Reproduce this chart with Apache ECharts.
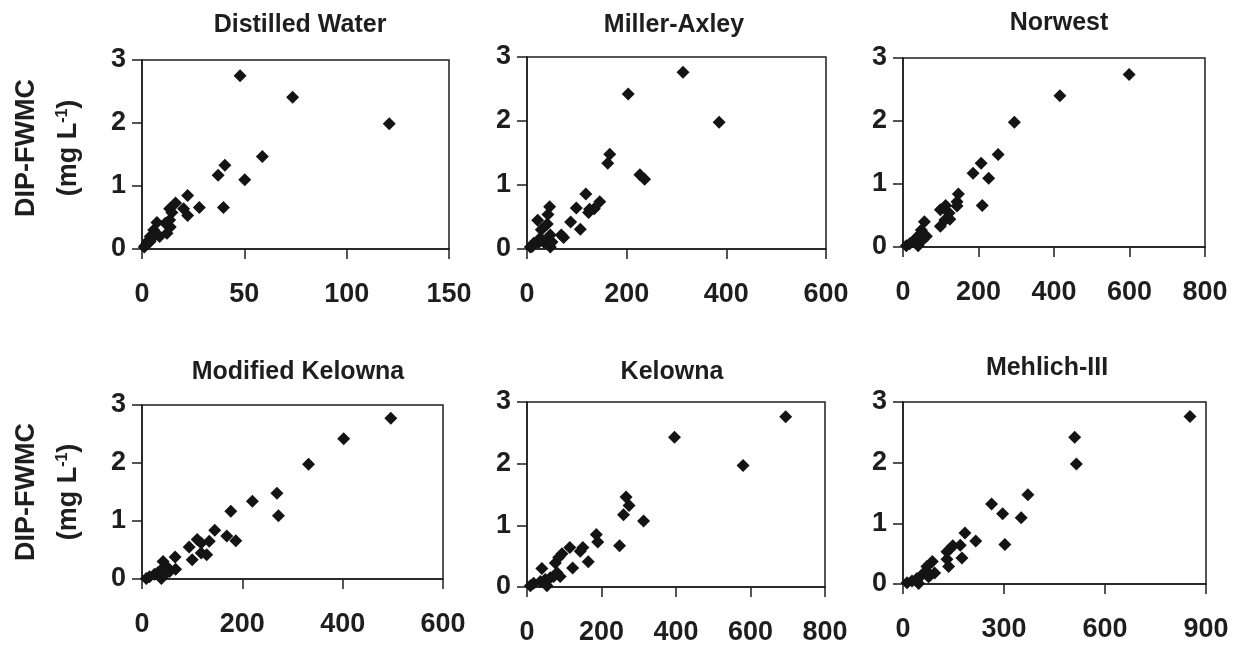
<!DOCTYPE html>
<html>
<head>
<meta charset="utf-8">
<script src="https://cdn.jsdelivr.net/npm/echarts@6/dist/echarts.min.js"></script>
<style>
html,body{margin:0;padding:0;background:#fff;}
#chart{width:1240px;height:650px;}
</style>
</head>
<body>
<div id="chart"></div>
<script>
// ---- data (x = extractable P, y = DIP-FWMC mg/L) ----
const panelTitles = ['Distilled Water', 'Miller-Axley', 'Norwest', 'Modified Kelowna', 'Kelowna', 'Mehlich-III'];

const distilledWater = [
  [47.9,2.75],[73.6,2.41],[120.8,1.99],[58.8,1.47],[40.5,1.33],[37.2,1.17],[50.2,1.10],[39.8,0.66],
  [22.3,0.85],[28.0,0.66],[22.3,0.53],[20.3,0.64],[16.4,0.73],[13.5,0.64],[14.6,0.58],[13.5,0.46],
  [13.8,0.35],[12.2,0.25],[11.4,0.41],[7.3,0.42],[8.6,0.20],[5.7,0.30],[4.0,0.20],[3.3,0.14],
  [2.4,0.09],[1.6,0.05],[4.0,0.12],[1.1,0.03],[4.9,0.17]
];
const millerAxley = [
  [313,2.76],[203,2.42],[385.5,1.98],[166,1.48],[162,1.34],[226.5,1.16],[236,1.09],[118,0.86],
  [146,0.74],[125.6,0.62],[135,0.63],[123.6,0.57],[99,0.64],[87.5,0.42],[107,0.31],[73.5,0.18],
  [68.8,0.22],[45.4,0.66],[42,0.54],[40.8,0.39],[21.4,0.45],[28.7,0.30],[46.8,0.22],[40,0.14],
  [33.4,0.11],[23.4,0.10],[13.4,0.09],[10,0.04],[46.8,0.03],[50,0.11],[26.7,0.17],[6.7,0.03]
];
const norwest = [
  [599,2.74],[415.5,2.40],[295,1.98],[252,1.47],[207,1.33],[185.6,1.17],[227,1.09],[210,0.66],
  [146.7,0.84],[143,0.72],[143,0.65],[113,0.66],[99,0.59],[122,0.54],[124,0.44],[111,0.43],
  [99,0.33],[56.6,0.40],[48.6,0.27],[62,0.17],[44,0.20],[35,0.14],[26.5,0.09],[17.7,0.05],
  [8.8,0.02],[40,0.02],[53,0.12]
];
const modifiedKelowna = [
  [496,2.77],[402,2.42],[332,1.98],[269,1.48],[272,1.09],[220,1.34],[177,1.17],[169,0.74],
  [187,0.66],[145,0.84],[134,0.65],[110,0.68],[118,0.62],[94,0.55],[118,0.45],[129,0.42],
  [100,0.33],[66,0.38],[67,0.17],[42,0.30],[48.5,0.22],[38.5,0.16],[32,0.11],[25,0.08],
  [15,0.04],[8.6,0.01],[38.5,0.01],[55,0.13],[48.5,0.10]
];
const kelowna = [
  [694.5,2.76],[396,2.43],[580,1.97],[266,1.46],[274,1.32],[259,1.17],[313,1.07],[248.5,0.67],
  [186,0.85],[190,0.73],[164.5,0.41],[150,0.64],[143,0.58],[115,0.64],[122.5,0.31],[94,0.54],
  [85,0.48],[76,0.39],[40,0.30],[80.5,0.23],[71.5,0.17],[62.6,0.15],[49,0.12],[36,0.09],
  [18,0.06],[9,0.02],[53.6,0.02],[89,0.17]
];
const mehlichIII = [
  [852.5,2.76],[510,2.42],[515,1.98],[371,1.47],[263,1.32],[296,1.16],[351,1.09],[302.6,0.65],
  [184,0.84],[216,0.71],[170,0.64],[148,0.63],[140,0.58],[130.5,0.53],[175,0.43],[130.5,0.41],
  [135.5,0.29],[87,0.37],[94,0.18],[71,0.29],[66,0.20],[56,0.15],[41.5,0.09],[26.7,0.05],
  [12,0.02],[46.5,0.01],[81,0.15],[76,0.12]
];
const panelData = [distilledWater, millerAxley, norwest, modifiedKelowna, kelowna, mehlichIII];

const xMax = [150, 600, 800, 600, 800, 900];
const xInterval = [50, 200, 200, 200, 200, 300];
const yMax = 3, yInterval = 1;
const yName1 = 'DIP-FWMC';
const yName2 = '(mg L{sup|-1})';

// ---- layout ----
const grids = [
  {left:142, top:60,  width:307, height:189},
  {left:527, top:57,  width:299, height:192},
  {left:903, top:58,  width:302, height:189},
  {left:142, top:405, width:301, height:174},
  {left:527, top:402, width:298, height:185},
  {left:903, top:402, width:303, height:182}
];
const titlePos = [[295,8],[669,8],[1054,6],[293,355],[667,355],[1042,351]];

const FONT = '"Liberation Sans", Arial, Helvetica, sans-serif';
const INK = '#1e1e1e';

const option = {
  backgroundColor: '#fff',
  animation: false,
  title: panelTitles.map((t, i) => ({
    text: t, left: titlePos[i][0], top: titlePos[i][1], textAlign: 'center',
    textStyle: {fontFamily: FONT, fontWeight: 'bold', fontSize: 25, color: INK}
  })),
  grid: grids.map(g => Object.assign({show: true, borderColor: INK, borderWidth: 1.5, backgroundColor: 'transparent'}, g)),
  xAxis: grids.map((g, i) => ({
    type: 'value', gridIndex: i, min: 0, max: xMax[i], interval: xInterval[i],
    splitLine: {show: false},
    axisLine: {show: true, onZero: false, lineStyle: {color: INK, width: 1.5}},
    axisTick: {show: true, inside: false, length: 10, lineStyle: {color: INK, width: 1.5}},
    axisLabel: {margin: 32, fontFamily: FONT, fontWeight: 'bold', fontSize: 27, color: INK, showMinLabel: true, showMaxLabel: true}
  })),
  yAxis: grids.map((g, i) => ({
    type: 'value', gridIndex: i, min: 0, max: yMax, interval: yInterval,
    splitLine: {show: false},
    axisLine: {show: true, onZero: false, lineStyle: {color: INK, width: 1.5}},
    axisTick: {show: true, inside: false, length: 10, lineStyle: {color: INK, width: 1.5}},
    axisLabel: {margin: 16, fontFamily: FONT, fontWeight: 'bold', fontSize: 27, color: INK}
  })),
  series: panelData.map((d, i) => ({
    type: 'scatter', xAxisIndex: i, yAxisIndex: i, data: d,
    symbol: 'diamond', symbolSize: 13,
    itemStyle: {color: '#141414', opacity: 1}
  })),
  graphic: [148, 492].flatMap(cy => [
    {type: 'text', x: 27, y: cy, rotation: Math.PI / 2,
     style: {text: yName1, font: 'bold 27px ' + FONT, fill: INK, align: 'center', verticalAlign: 'middle'}},
    {type: 'text', x: 69, y: cy, rotation: Math.PI / 2,
     style: {text: yName2, font: 'bold 27px ' + FONT, fill: INK, align: 'center', verticalAlign: 'middle',
       rich: {sup: {fontSize: 16, fontWeight: 'bold', fontFamily: FONT, verticalAlign: 'top', padding: [0,0,12,0]}}}}
  ])
};

const chart = echarts.init(document.getElementById('chart'), null, {renderer: 'canvas'});
chart.setOption(option);
</script>
</body>
</html>
